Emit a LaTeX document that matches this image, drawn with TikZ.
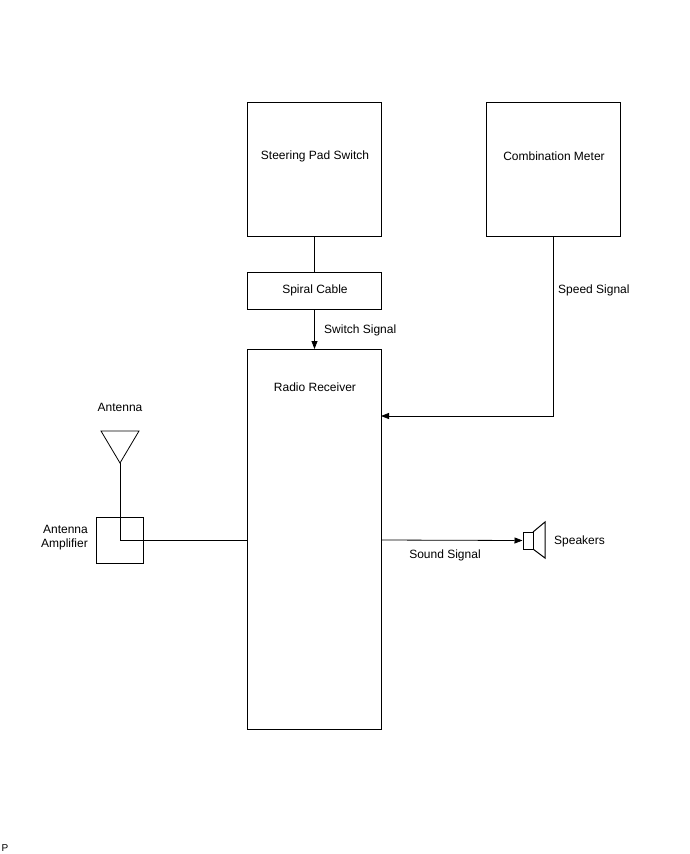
\documentclass[tikz,border=0pt]{standalone}
\usepackage{fontspec}
\setmainfont{Liberation Sans}
\usetikzlibrary{arrows.meta}
\begin{document}
\begin{tikzpicture}[x=1pt,y=-1pt,
  box/.style={draw,line width=1pt},
  lbl/.style={font=\fontsize{12}{14}\selectfont,inner sep=0pt},
  con/.style={line width=0.8pt},
  arr/.style={con,-{Triangle[length=8pt,width=6pt]}}]
\useasboundingbox (0,0) rectangle (690,854);
% boxes
\node[box,minimum width=134pt,minimum height=134pt,anchor=north west] (sps) at (247,102) {};
\node[lbl] (spst) at (315,156) {Steering Pad Switch};
\node[box,minimum width=134pt,minimum height=134pt,anchor=north west] (cm) at (486,102) {};
\node[lbl] (cmt) at (554,156) {Combination Meter};
\node[box,minimum width=134pt,minimum height=37pt,anchor=north west] (sc) at (247,272) {};
\node[lbl] at (315,290) {Spiral Cable};
\node[box,minimum width=134pt,minimum height=380pt,anchor=north west] (rr) at (247,349) {};
\node[lbl] at (315,387) {Radio Receiver};
\node[box,minimum width=47pt,minimum height=46pt,anchor=north west] (amp) at (96,517) {};
\node[lbl,align=right,anchor=east] at (88,538) {Antenna\\Amplifier};
% connectors
\draw[con] (sps.south) -- (sc.north);
\draw[arr] (sc.south) -- (rr.north);
\node[lbl,anchor=west] at (324,330) {Switch Signal};
\coordinate (cmb) at (553,236);
\draw[arr] (cmb) -- (553,416) -- (381,416);
\node[lbl,anchor=west] at (558,290) {Speed Signal};
% antenna
\coordinate (ant) at (120,463);
\draw[con] (101,431) -- (139,431) -- (ant) -- cycle;
\node[lbl] at (120,407) {Antenna};
\draw[con] (ant) -- (120,540) -- (247,540);
% speaker
\node[draw,line width=1pt,minimum width=10pt,minimum height=17pt,inner sep=0pt] (spk) at (528,540.5) {};
\draw[line width=1pt] (533,532) -- (545,522) -- (545,558) -- (533,549);
\node[lbl,anchor=west] at (554,541) {Speakers};
\draw[arr] (381,540) -- (spk.west);
\node[lbl] at (445,555) {Sound Signal};
\node[lbl,font=\fontsize{10}{12}\selectfont] at (5,848) {P};
\end{tikzpicture}
\end{document}
